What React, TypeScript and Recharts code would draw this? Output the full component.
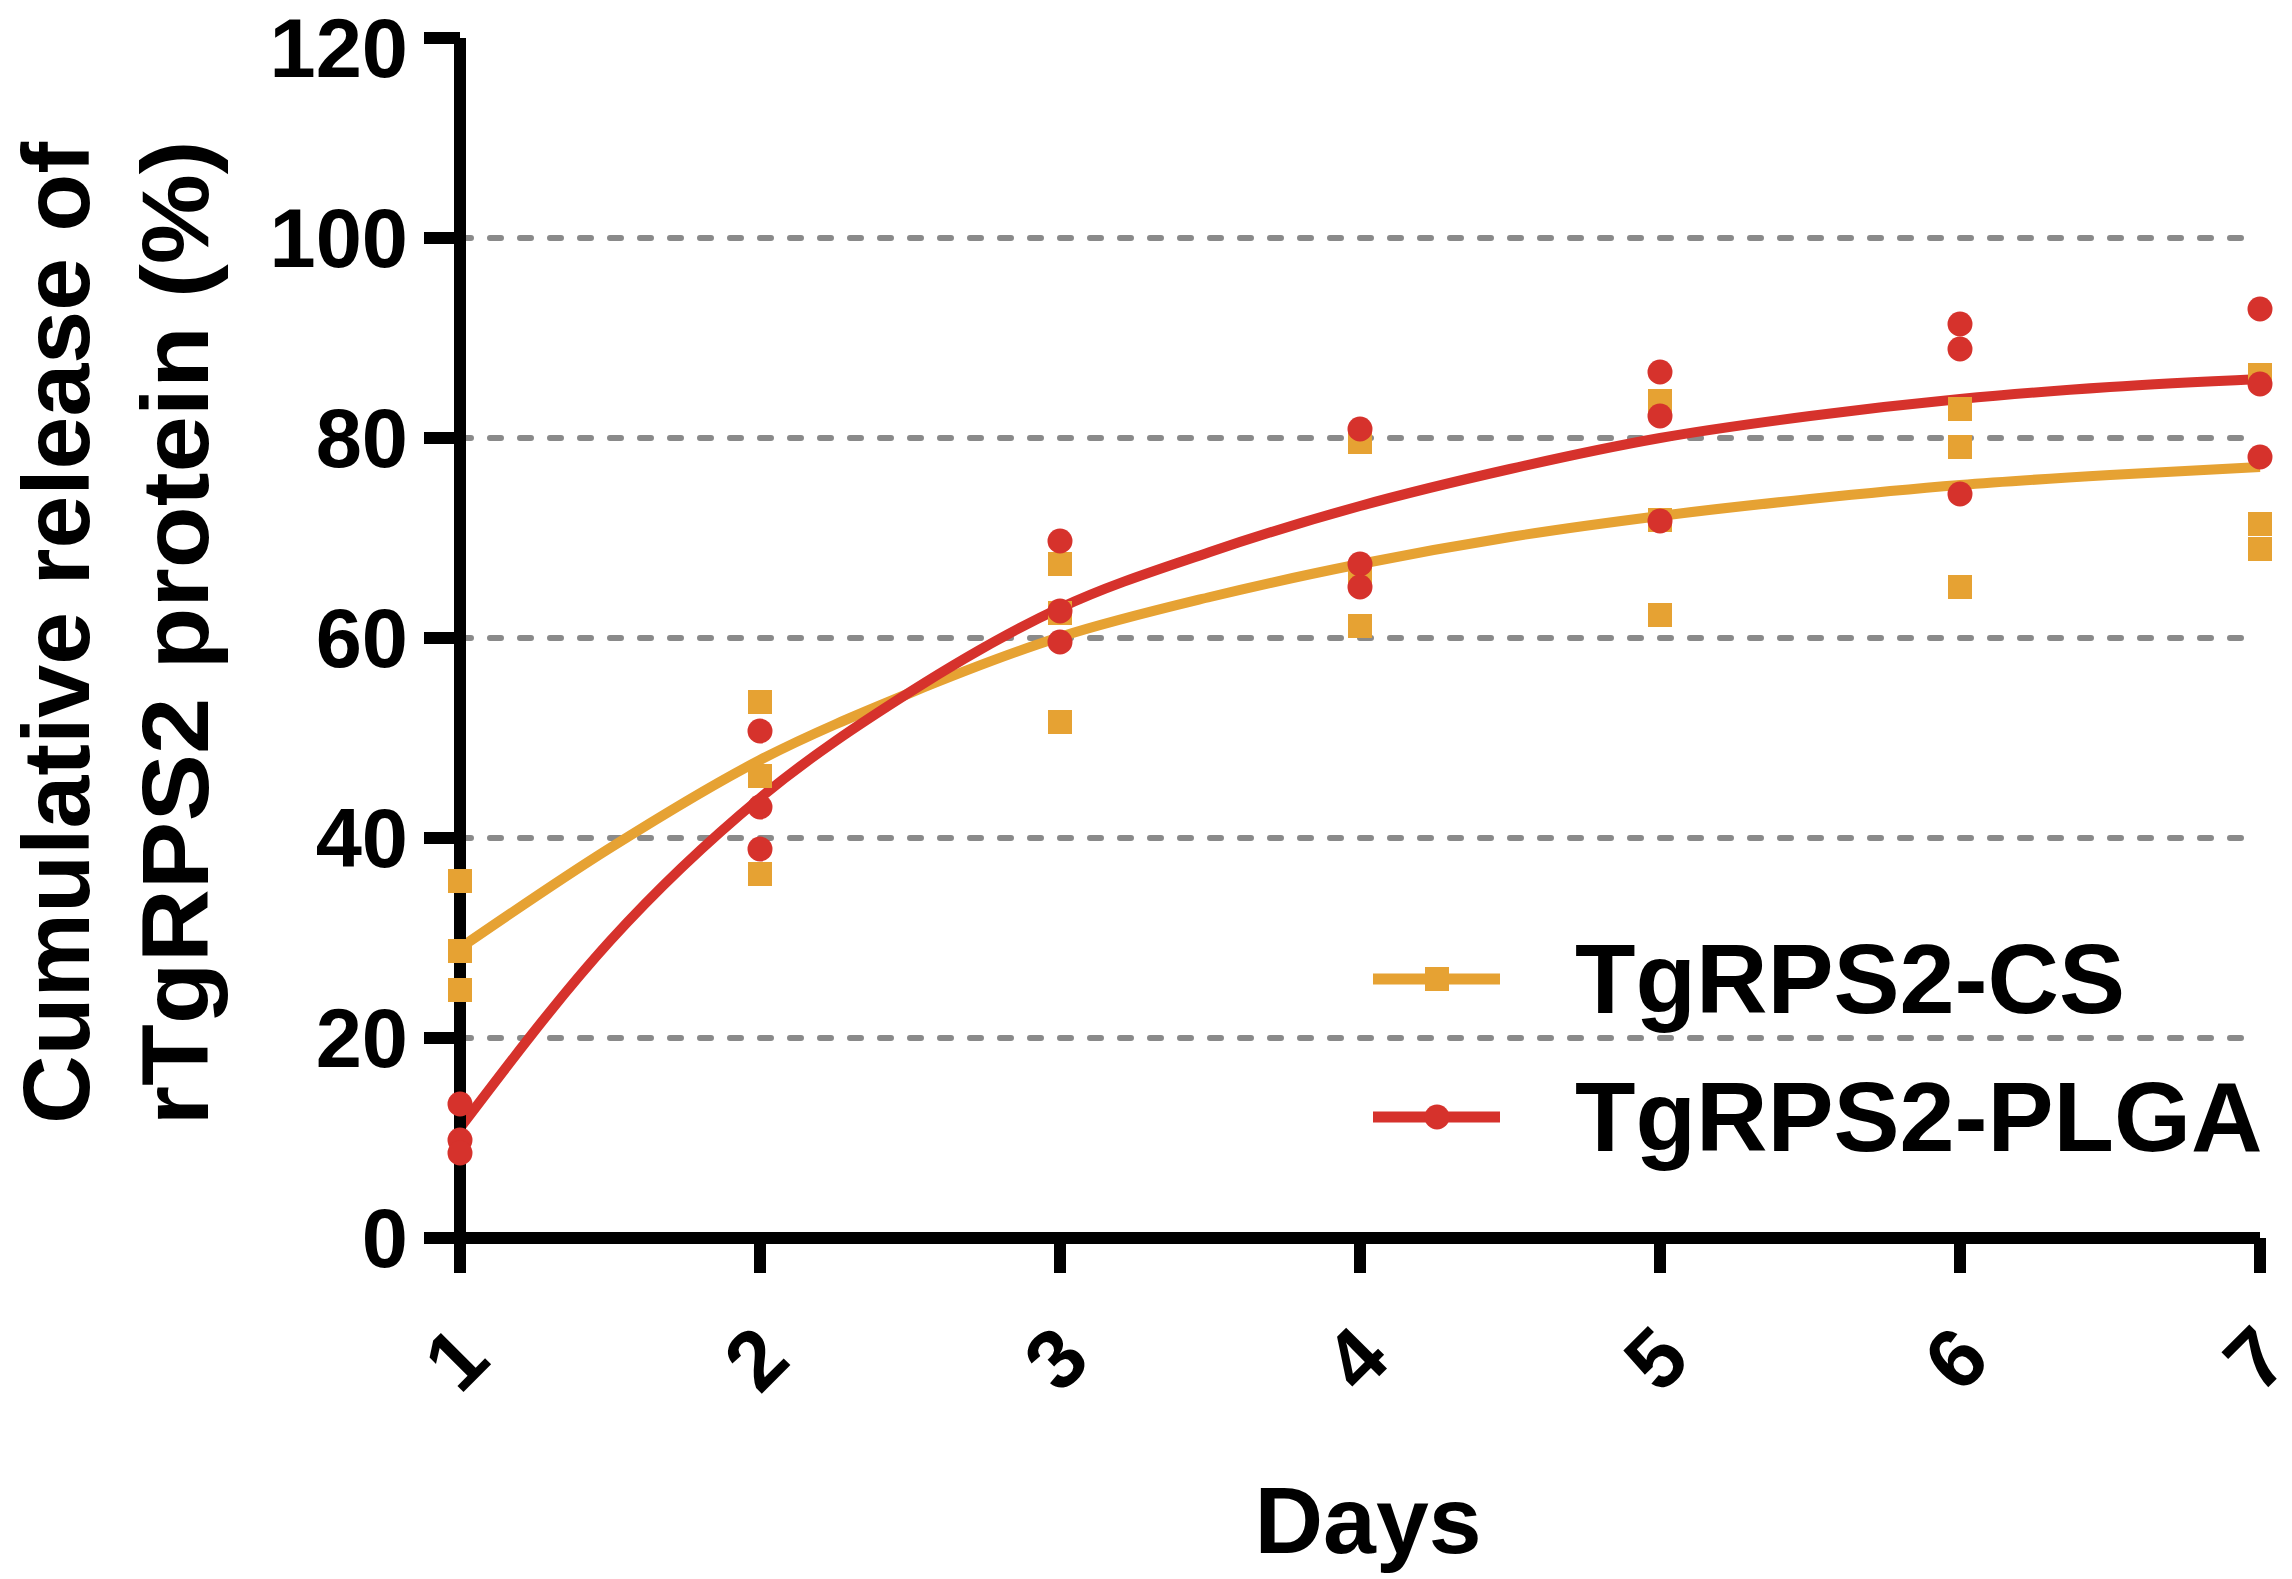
import React from 'react';
import {
  ComposedChart,
  Line,
  Scatter,
  XAxis,
  YAxis,
  ReferenceLine,
} from 'recharts';

const FONT = '"Liberation Sans", Arial, sans-serif';
const CS_COLOR = '#E6A233';
const PLGA_COLOR = '#D6322C';

// sampling days and replicate readings (% released)
const days = [1, 2, 3, 4, 5, 6, 7];
const csRep1 = [35.7, 53.6, 67.4, 79.6, 83.7, 82.9, 86.3];
const csRep2 = [28.7, 46.2, 62.5, 66.3, 71.8, 79.1, 71.4];
const csRep3 = [24.8, 36.4, 51.6, 61.2, 62.3, 65.1, 68.9];
const plgaRep1 = [13.4, 50.7, 69.7, 80.9, 86.6, 91.4, 92.9];
const plgaRep2 = [9.8, 43.1, 62.7, 67.4, 82.2, 88.9, 85.4];
const plgaRep3 = [8.5, 38.9, 59.6, 65.1, 71.7, 74.4, 78.1];

// fitted curves
const fitDays = [1, 1.5, 2, 2.5, 3, 3.5, 4, 4.5, 5, 5.5, 6, 6.5, 7];
const csFit = [29, 39, 47.8, 54.5, 60.1, 64.1, 67.4, 70.1, 72.2, 73.9, 75.3, 76.3, 77.1];
const plgaFit = [11, 29.7, 44, 54.6, 63, 68.6, 73.2, 76.9, 80, 82.2, 83.9, 85.1, 85.9];

const yTicks = [0, 20, 40, 60, 80, 100, 120];
const gridValues = [20, 40, 60, 80, 100];

const series = [
  { name: 'TgRPS2-CS', color: CS_COLOR, shape: 'square' },
  { name: 'TgRPS2-PLGA', color: PLGA_COLOR, shape: 'circle' },
];

const toPoints = (reps: number[][]) =>
  days.flatMap((d, i) => reps.map((r) => ({ x: d, y: r[i] })));

const csPoints = toPoints([csRep1, csRep2, csRep3]);
const plgaPoints = toPoints([plgaRep1, plgaRep2, plgaRep3]);
const csCurve = fitDays.map((d, i) => ({ x: d, y: csFit[i] }));
const plgaCurve = fitDays.map((d, i) => ({ x: d, y: plgaFit[i] }));

const SquareDot = (props: any) => (
  <rect x={props.cx - 12} y={props.cy - 12} width={24} height={24} fill={CS_COLOR} />
);
const CircleDot = (props: any) => (
  <circle cx={props.cx} cy={props.cy} r={12.5} fill={PLGA_COLOR} />
);

const XTick = (props: any) => {
  const { x, y, payload } = props;
  const cx = x - 5;
  const cy = y + 83;
  return (
    <text
      x={cx}
      y={cy}
      dy={30}
      textAnchor="middle"
      transform={`rotate(-45, ${cx}, ${cy})`}
      fontFamily={FONT}
      fontWeight="bold"
      fontSize={84}
      fill="#000"
    >
      {payload.value}
    </text>
  );
};

const YTitle = () => (
  <g fontFamily={FONT} fontWeight="bold" fontSize={95} fill="#000">
    <text x={89} y={633} textAnchor="middle" transform="rotate(-90, 89, 633)">
      Cumulative release of
    </text>
    <text
      x={208}
      y={633}
      textAnchor="middle"
      textLength={985}
      lengthAdjust="spacingAndGlyphs"
      transform="rotate(-90, 208, 633)"
    >
      rTgRPS2 protein (%)
    </text>
  </g>
);

const XTitle = () => (
  <text x={1368} y={1553} textAnchor="middle" fontFamily={FONT} fontWeight="bold" fontSize={95} fill="#000">
    Days
  </text>
);

// legend drawn beside the chart, placed over the lower right of the plot
const LegendBox = () => (
  <div style={{ position: 'absolute', left: 1373, top: 910, width: 915 }}>
    {series.map((s) => (
      <div key={s.name} style={{ display: 'flex', alignItems: 'center', height: 138 }}>
        <svg width={127} height={30} style={{ display: 'block', flex: 'none' }}>
          <line x1={0} x2={127} y1={15} y2={15} stroke={s.color} strokeWidth={11} />
          {s.shape === 'square' ? (
            <rect x={52} y={3} width={24} height={24} fill={s.color} />
          ) : (
            <circle cx={64} cy={15} r={12.5} fill={s.color} />
          )}
        </svg>
        <span
          style={{
            marginLeft: 75,
            fontFamily: FONT,
            fontWeight: 'bold',
            fontSize: 99,
            lineHeight: '114px',
            whiteSpace: 'nowrap',
            color: '#000',
          }}
        >
          {s.name}
        </span>
      </div>
    ))}
  </div>
);

export default function App() {
  return (
    <div style={{ position: 'absolute', left: 0, top: 0, width: 2292, height: 1579, background: '#fff' }}>
      <ComposedChart
        width={2292}
        height={1579}
        margin={{ top: 38, right: 32, bottom: 91, left: 0 }}
      >
        <XAxis
          type="number"
          dataKey="x"
          domain={[1, 7]}
          ticks={days}
          height={250}
          axisLine={{ stroke: '#000', strokeWidth: 12 }}
          tickLine={{ stroke: '#000', strokeWidth: 12 }}
          tickSize={35}
          tick={<XTick />}
          label={{ content: () => <XTitle /> }}
        />
        <YAxis
          type="number"
          dataKey="y"
          domain={[0, 120]}
          ticks={yTicks}
          width={460}
          axisLine={{ stroke: '#000', strokeWidth: 12 }}
          tickLine={{ stroke: '#000', strokeWidth: 12 }}
          tickSize={36}
          tickMargin={16}
          tick={{ fill: '#000', fontSize: 83, fontWeight: 'bold', fontFamily: FONT }}
          label={{ content: () => <YTitle /> }}
        />
        {gridValues.map((v) => (
          <ReferenceLine
            key={v}
            y={v}
            stroke="#8a8a8a"
            strokeWidth={6}
            strokeDasharray="11 19"
            strokeLinecap="round"
          />
        ))}
        <Line
          data={csCurve}
          dataKey="y"
          type="monotone"
          stroke={CS_COLOR}
          strokeWidth={10}
          dot={false}
          activeDot={false}
          isAnimationActive={false}
        />
        <Line
          data={plgaCurve}
          dataKey="y"
          type="monotone"
          stroke={PLGA_COLOR}
          strokeWidth={10}
          dot={false}
          activeDot={false}
          isAnimationActive={false}
        />
        <Scatter data={csPoints} dataKey="y" shape={<SquareDot />} isAnimationActive={false} />
        <Scatter data={plgaPoints} dataKey="y" shape={<CircleDot />} isAnimationActive={false} />
      </ComposedChart>
      <LegendBox />
    </div>
  );
}
